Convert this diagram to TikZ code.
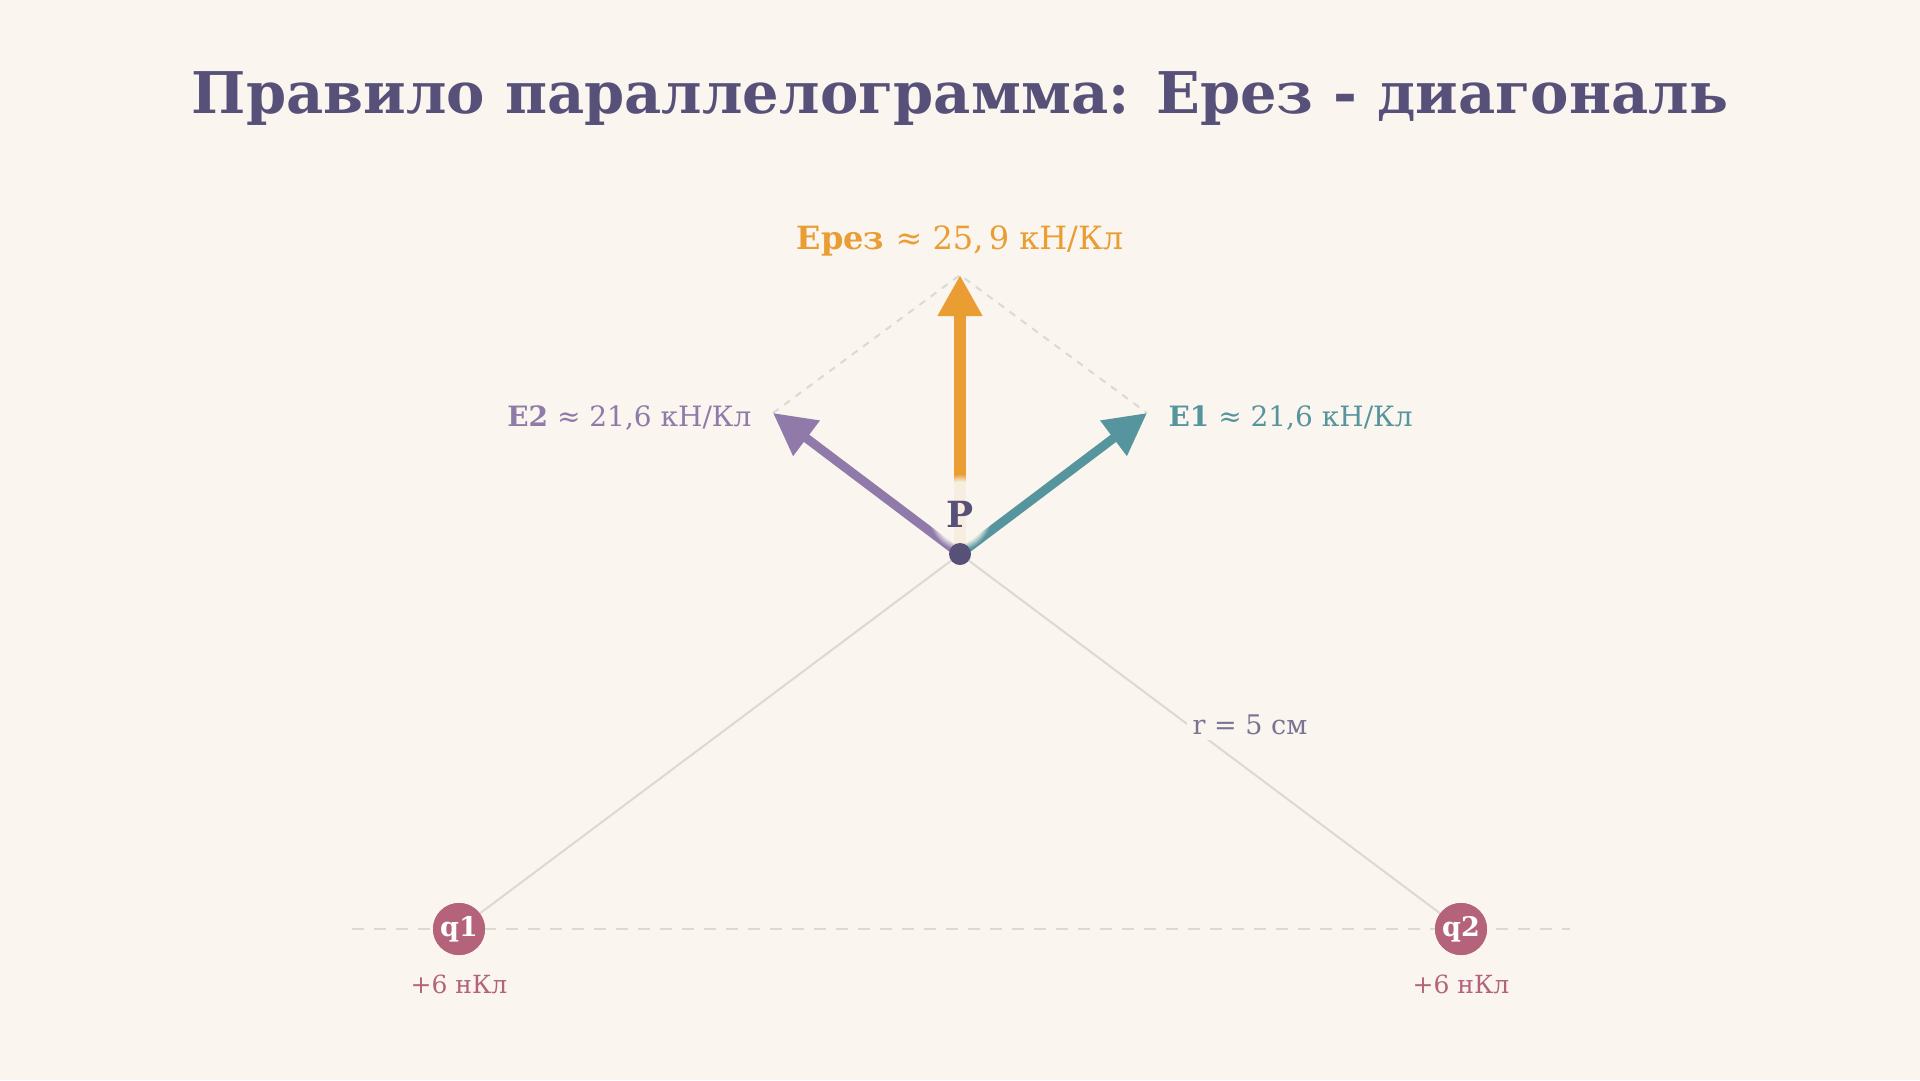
\documentclass[tikz,border=0pt]{standalone}
\usepackage{fontspec}
\setmainfont{DejaVu Serif}
\usetikzlibrary{arrows.meta,fadings}
\definecolor{bg}{HTML}{FAF5EE}
\definecolor{titlec}{HTML}{57517A}
\definecolor{resc}{HTML}{E99D33}
\definecolor{eonec}{HTML}{56959E}
\definecolor{etwoc}{HTML}{8F7AAA}
\definecolor{chargec}{HTML}{B5637A}
\definecolor{guidec}{HTML}{DCD9D3}
\definecolor{rlabc}{HTML}{7A7492}
\tikzset{
  guide/.style={draw=guidec, line width=2pt},
  guidedash/.style={draw=guidec, line width=2.2pt, dash pattern=on 12pt off 10pt},
  paradash/.style={draw=guidec, line width=2pt, dash pattern=on 7pt off 7pt},
  vecarrow/.style={line width=9pt, -{Triangle[length=42pt,width=42pt]}},
  resarrow/.style={line width=12pt, -{Triangle[length=41pt,width=42pt]}},
  chargenode/.style={circle, fill=chargec, minimum size=52pt, inner sep=0pt, text=white, font=\fontsize{27}{30}\selectfont\bfseries},
  chargelab/.style={text=chargec, font=\fontsize{25}{28}\selectfont, anchor=base},
  veclab/.style={font=\fontsize{28}{34}\selectfont},
}
\begin{document}
\begin{tikzpicture}[x=1pt,y=-1pt]
\fill[bg] (0,0) rectangle (1920,1080);
\useasboundingbox (0,0) rectangle (1920,1080);

% title
\node[anchor=base, text=titlec, font=\fontsize{57.5}{70}\selectfont\bfseries] (title) at (960,113) {Правило параллелограмма: Ерез - диагональ};

% key points
\coordinate (P) at (960,554);
\coordinate (T1) at (1147,413);
\coordinate (T2) at (773,413);
\coordinate (TR) at (960,275);
\coordinate (BL) at (352,929);
\coordinate (BR) at (1570,929);

% charges (nodes first for line anchors)
\node[chargenode] (q1) at (459,929) {q1};
\node[chargenode] (q2) at (1461,929) {q2};

% baseline dashed
\draw[guidedash] (BL) -- (BR);
% lines charges -> P
\draw[guide] (q1) -- (P);
\draw[guide] (P) -- (q2);

% r label
\node[fill=bg, inner sep=6pt, text=rlabc, font=\fontsize{27}{32}\selectfont, anchor=base] (rlab) at (1250,734) {r = 5 см};

% parallelogram dashes
\draw[paradash] (T2) -- (TR) -- (T1);

% vectors
\draw[vecarrow, draw=etwoc, fill=etwoc] (P) -- (T2);
\draw[vecarrow, draw=eonec, fill=eonec] (P) -- (T1);
\draw[resarrow, draw=resc, fill=resc] (P) -- (TR);

% soft fading box around P label
\fill[bg, opacity=0.92, path fading=circle with fuzzy edge 20 percent] (928,474) rectangle (992,550);
\node[anchor=base, text=titlec, font=\fontsize{36}{40}\selectfont\bfseries] (Plab) at (960,527) {P};

% point P
\fill[titlec] (P) circle (11pt);

% redraw charges on top
\node[chargenode] at (q1) {q1};
\node[chargenode] at (q2) {q2};
\node[chargelab] (c1) at (459,993) {+6 нКл};
\node[chargelab] (c2) at (1461,993) {+6 нКл};

% vector labels
\node[veclab, anchor=base east, text=etwoc] (l2) at (755,426) {\textbf{E2} ≈ 21,6 кН/Кл};
\node[veclab, anchor=base west, text=eonec] (l1) at (1165,426) {\textbf{E1} ≈ 21,6 кН/Кл};
\node[anchor=base, text=resc, font=\fontsize{32}{38}\selectfont] (lr) at (960,249) {\textbf{Ерез}\hspace{0.35em}≈ 25,\,9 кН/Кл};
\end{tikzpicture}
\end{document}
